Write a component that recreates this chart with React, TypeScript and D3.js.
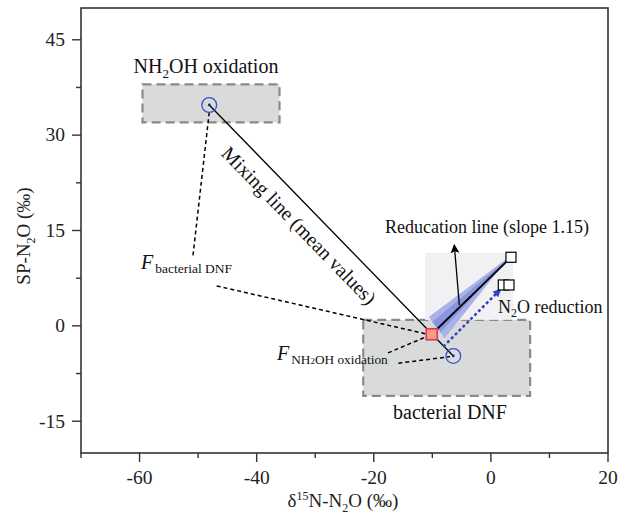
import React from "react";
import * as d3 from "d3";

// ---- data ----
const xTicks = [-60, -40, -20, 0, 20];
const xMinorTicks = [-70, -50, -30, -10, 10];
const yTicks = [-15, 0, 15, 30, 45];
const yMinorTicks = [-7.5, 7.5, 22.5, 37.5];

const sourceNames = ["NH\u2082OH oxidation", "bacterial DNF"];
const sourceBoxX0 = [-59.5, -21.8];
const sourceBoxX1 = [-36.1, 6.7];
const sourceBoxY0 = [32.0, -11.0];
const sourceBoxY1 = [38.0, 0.93];
const sourceMeanX = [-48.1, -6.42];
const sourceMeanY = [34.75, -4.73];

const sampleX = [-10.1];
const sampleY = [-1.32];

const reducedX = [3.43, 2.12, 3.09];
const reducedY = [10.79, 6.43, 6.43];

// reduction arrow (blue) start / end
const reductionArrowX = [-8.13, 1.55];
const reductionArrowY = [-3.27, 5.65];

// pointer for the reduction line label
const pointerX = [-5.39, -6.25];
const pointerY = [3.29, 12.73];

// uncertainty wedge
const wedgeOuterX = [3.2, -10.6, -7.9];
const wedgeOuterY = [10.9, 1.4, -1.95];
const wedgeInnerX = [3.3, -10.0, -8.6];
const wedgeInnerY = [10.85, 0.6, -1.0];

// dashed annotation lines [x0, y0, x1, y1]
const annotX0 = [-48.1, -46.83, -17.57, -15.81];
const annotY0 = [33.6, 6.28, -4.25, -5.88];
const annotX1 = [-50.87, -10.3, -10.3, -6.98];
const annotY1 = [11.1, -1.43, -1.43, -4.84];

const W = 626;
const H = 518;
const FONT = "'Liberation Serif', 'Times New Roman', serif";

export default function App() {
  const x = d3.scaleLinear().domain([-70, 20]).range([81, 608]);
  const y = d3.scaleLinear().domain([-20, 50]).range([453, 8]);

  const [x0, x1] = x.range();
  const [y0, y1] = y.range();

  const mx1 = x(sourceMeanX[0]), my1 = y(sourceMeanY[0]);
  const mx2 = x(sourceMeanX[1]), my2 = y(sourceMeanY[1]);
  const ang = (Math.atan2(my2 - my1, mx2 - mx1) * 180) / Math.PI;
  const midX = (mx1 + mx2) / 2;
  const midY = (my1 + my2) / 2;

  const poly = (xs: number[], ys: number[]) =>
    xs.map((v, i) => `${x(v)},${y(ys[i])}`).join(" ");

  return (
    <svg
      width={W}
      height={H}
      style={{ position: "absolute", left: 0, top: 0, background: "#fff" }}
      fontFamily={FONT}
    >
      <defs>
        <marker id="blackHead" viewBox="0 0 10 10" refX="9" refY="5" markerWidth="9" markerHeight="13" markerUnits="userSpaceOnUse" orient="auto">
          <path d="M0,0 L10,5 L0,10 L2,5 Z" fill="#000" />
        </marker>
        <marker id="blueHead" viewBox="0 0 10 10" refX="8" refY="5" markerWidth="8" markerHeight="8" markerUnits="userSpaceOnUse" orient="auto">
          <path d="M0,0 L10,5 L0,10 Z" fill="#3040c0" />
        </marker>
      </defs>

      {/* source boxes */}
      {sourceNames.map((n, i) => (
        <rect
          key={n}
          x={x(sourceBoxX0[i])}
          y={y(sourceBoxY1[i])}
          width={x(sourceBoxX1[i]) - x(sourceBoxX0[i])}
          height={y(sourceBoxY0[i]) - y(sourceBoxY1[i])}
          fill="#d9dbdb"
          stroke="#8a8a8a"
          strokeWidth={2.2}
          strokeDasharray="9,5"
        />
      ))}

      {/* faint background of reduction zone */}
      <rect
        x={x(-11.25)}
        y={y(11.5)}
        width={x(3.8) - x(-11.25)}
        height={y(0.95) - y(11.5)}
        fill="#f1f1f4"
      />

      {/* wedge */}
      <polygon points={poly(wedgeOuterX, wedgeOuterY)} fill="#a9b3e7" />
      <polygon points={poly(wedgeInnerX, wedgeInnerY)} fill="#8896dd" />

      {/* dashed annotation lines */}
      {annotX0.map((v, i) => (
        <line
          key={"a" + i}
          x1={x(v)}
          y1={y(annotY0[i])}
          x2={x(annotX1[i])}
          y2={y(annotY1[i])}
          stroke="#000"
          strokeWidth={1.5}
          strokeDasharray="4,3"
        />
      ))}

      {/* mixing line */}
      <line x1={mx1} y1={my1} x2={mx2} y2={my2} stroke="#000" strokeWidth={1.3} />

      {/* reduction line */}
      <line
        x1={x(sampleX[0])}
        y1={y(sampleY[0])}
        x2={x(reducedX[0])}
        y2={y(reducedY[0])}
        stroke="#000"
        strokeWidth={1.8}
      />

      {/* blue dashed arrow */}
      <line
        x1={x(reductionArrowX[0])}
        y1={y(reductionArrowY[0])}
        x2={x(reductionArrowX[1])}
        y2={y(reductionArrowY[1])}
        stroke="#3040c0"
        strokeWidth={2.5}
        strokeDasharray="3,2.5"
        markerEnd="url(#blueHead)"
      />

      {/* pointer arrow */}
      <line
        x1={x(pointerX[0])}
        y1={y(pointerY[0])}
        x2={x(pointerX[1])}
        y2={y(pointerY[1])}
        stroke="#000"
        strokeWidth={1.3}
        markerEnd="url(#blackHead)"
      />

      {/* source means */}
      {sourceMeanX.map((v, i) => (
        <g key={"m" + i}>
          <circle cx={x(v)} cy={y(sourceMeanY[i])} r={7.4} fill="none" stroke="#3b4fc8" strokeWidth={1.3} />
          <circle cx={x(v)} cy={y(sourceMeanY[i])} r={1.4} fill="#1a2a9a" />
        </g>
      ))}

      {/* sample square */}
      {sampleX.map((v, i) => (
        <rect
          key={"s" + i}
          x={x(v) - 5.5}
          y={y(sampleY[i]) - 5.5}
          width={11}
          height={11}
          fill="#f4a07c"
          stroke="#e0306a"
          strokeWidth={1.6}
        />
      ))}

      {/* reduced squares */}
      {reducedX.map((v, i) => (
        <rect
          key={"r" + i}
          x={x(v) - 5}
          y={y(reducedY[i]) - 5}
          width={10}
          height={10}
          fill="#fff"
          stroke="#000"
          strokeWidth={1.2}
        />
      ))}

      {/* axes frame */}
      <rect x={x0} y={y1} width={x1 - x0} height={y0 - y1} fill="none" stroke="#333" strokeWidth={1.6} />

      {/* x ticks */}
      {xTicks.map((t) => (
        <g key={"xt" + t}>
          <line x1={x(t)} x2={x(t)} y1={y0} y2={y0 + 9} stroke="#333" strokeWidth={1.4} />
          <text x={x(t)} y={484} textAnchor="middle" fontSize={19.5} fill="#222">
            {t}
          </text>
        </g>
      ))}
      {xMinorTicks.map((t) => (
        <line key={"xm" + t} x1={x(t)} x2={x(t)} y1={y0} y2={y0 + 5} stroke="#333" strokeWidth={1.4} />
      ))}

      {/* y ticks */}
      {yTicks.map((t) => (
        <g key={"yt" + t}>
          <line x1={x0 - 9} x2={x0} y1={y(t)} y2={y(t)} stroke="#333" strokeWidth={1.4} />
          <text x={65} y={y(t) + 6.3} textAnchor="end" fontSize={19.5} fill="#222">
            {t}
          </text>
        </g>
      ))}
      {yMinorTicks.map((t) => (
        <line key={"ym" + t} x1={x0 - 5} x2={x0} y1={y(t)} y2={y(t)} stroke="#333" strokeWidth={1.4} />
      ))}

      {/* axis titles */}
      <text x={343} y={507} textAnchor="middle" fontSize={19} fill="#222">
        δ<tspan fontSize={12} dy={-7}>15</tspan>
        <tspan dy={7}>N-N</tspan>
        <tspan fontSize={12} dy={5}>2</tspan>
        <tspan dy={-5}>O (‰)</tspan>
      </text>
      <text transform="translate(29.5,236) rotate(-90)" textAnchor="middle" fontSize={19} fill="#222">
        SP-N<tspan fontSize={12} dy={5}>2</tspan>
        <tspan dy={-5}>O (‰)</tspan>
      </text>

      {/* source labels */}
      <text x={206} y={73} textAnchor="middle" fontSize={20} fill="#111">
        NH<tspan fontSize={13} dy={5}>2</tspan>
        <tspan dy={-5}>OH oxidation</tspan>
      </text>
      <text x={450} y={419} textAnchor="middle" fontSize={20} fill="#111">
        bacterial DNF
      </text>

      {/* mixing line label */}
      <text
        transform={`translate(${midX},${midY}) rotate(${ang})`}
        x={-26}
        y={26.5}
        textAnchor="middle"
        fontSize={20}
        fill="#111"
      >
        Mixing line (mean values)
      </text>

      <text x={487} y={233} textAnchor="middle" fontSize={18} fill="#111">
        Reducation line (slope 1.15)
      </text>
      <text x={498} y={313} fontSize={18} fill="#111">
        N<tspan fontSize={12} dy={4}>2</tspan>
        <tspan dy={-4}>O reduction</tspan>
      </text>

      {/* fraction labels */}
      <text x={141} y={269} fill="#111">
        <tspan fontStyle="italic" fontSize={20}>F</tspan>
        <tspan fontSize={13.5} dy={4} dx={2}>bacterial DNF</tspan>
      </text>
      <text x={277} y={360} fill="#111">
        <tspan fontStyle="italic" fontSize={20}>F</tspan>
        <tspan fontSize={13.3} dy={4} dx={2}>NH</tspan>
        <tspan fontSize={9}>2</tspan>
        <tspan fontSize={13.3}>OH oxidation</tspan>
      </text>
    </svg>
  );
}
